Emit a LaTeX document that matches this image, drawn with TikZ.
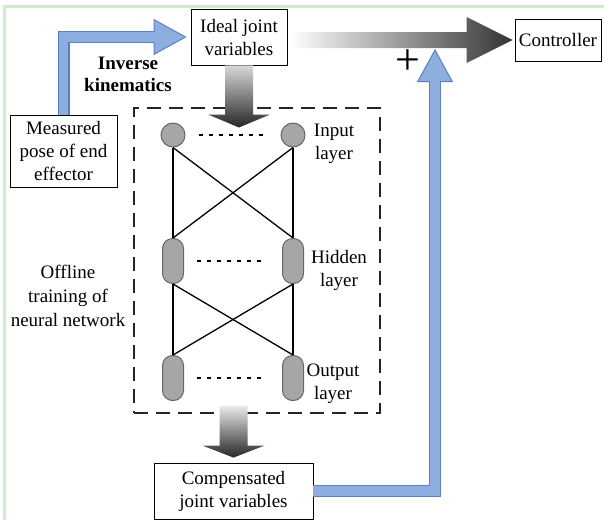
\documentclass[tikz,border=0pt]{standalone}
\usepackage{fontspec}
\setmainfont{Liberation Serif}
\usepackage{tikz}
\usetikzlibrary{arrows.meta,calc}
\definecolor{framegreen}{HTML}{CBEFCB}
\definecolor{bluefill}{HTML}{8FAEE0}
\definecolor{blueedge}{HTML}{5A80C4}
\tikzset{
  box/.style={draw=black, line width=0.8pt, fill=white, align=center, inner sep=2pt,
              font=\fontsize{19}{23}\selectfont},
  lbl/.style={align=center, inner sep=0pt, font=\fontsize{19}{23}\selectfont},
  trainbox/.style={draw=black!85, line width=1.2pt, dash pattern=on 14pt off 8pt},
  neuron/.style={circle, draw=black!60, fill=black!35, line width=1pt, minimum size=24pt, inner sep=0pt},
  pill/.style={rectangle, rounded corners=10pt, draw=black!60, fill=black!35, line width=1pt,
               minimum width=21pt, minimum height=45pt, inner sep=0pt},
  wire/.style={line width=1.3pt, draw=black},
  dotline/.style={line width=1.8pt, dash pattern=on 4pt off 6pt},
  bluearrow/.style={line width=12pt, draw=blueedge,
    -{Triangle[length=33pt,width=36pt,line width=1pt,fill=bluefill]},
    postaction={draw=bluefill, line width=9.5pt, -, shorten >=26pt}},
}
\begin{document}
\begin{tikzpicture}[x=1pt,y=-1pt]
  \useasboundingbox (0,0) rectangle (604,520);
  % frame
  \draw[framegreen, line width=3pt] (4.5,520) -- (4.5,6) -- (604,6);

  % boxes
  \node[box, minimum width=96pt, minimum height=56pt] (ideal) at (239,37) {Ideal joint\\variables};
  \node[box, minimum width=107pt, minimum height=72pt] (meas) at (63.5,151) {Measured\\pose of end\\effector};
  \node[box, minimum width=86pt, minimum height=42pt] (ctrl) at (558,40) {Controller};
  \node[box, minimum width=159pt, minimum height=56pt] (comp) at (233.5,491) {Compensated\\joint variables};

  % offline training block
  \node[trainbox, minimum width=246pt, minimum height=305pt] (train) at (257,260.5) {};
  \node[lbl, font=\fontsize{19}{24}\selectfont] (offl) at (68,296) {Offline\\training of\\neural network};

  % network
  \node[neuron] (in1) at (173,135) {};
  \node[neuron] (in2) at (293,135) {};
  \node[pill] (hid1) at (173,261) {};
  \node[pill] (hid2) at (293,261) {};
  \node[pill] (out1) at (173,378) {};
  \node[pill] (out2) at (293,378) {};
  \foreach \a in {in1,in2} {
    \foreach \b in {hid1,hid2} { \draw[wire] (\a.south) -- (\b.north); }
  }
  \foreach \a in {hid1,hid2} {
    \foreach \b in {out1,out2} { \draw[wire] (\a.south) -- (\b.north); }
  }
  \draw[dotline, shorten <=13pt, shorten >=16pt] (in1) -- (in2);
  \draw[dotline, shorten <=13pt, shorten >=19pt] (hid1) -- (hid2);
  \draw[dotline, shorten <=13pt, shorten >=19pt] (out1) -- (out2);
  \node[lbl] (inlab) at (334,144) {Input\\layer};
  \node[lbl] (hidlab) at (339,270) {Hidden\\layer};
  \node[lbl] (outlab) at (333,384) {Output\\layer};

  % inverse kinematics
  \draw[bluearrow, shorten >=4pt] (meas.north) |- (ideal.west);
  \node[lbl, font=\fontsize{19}{22}\bfseries] (ik) at (128,74) {Inverse\\kinematics};

  % shaded arrows
  \shade[left color=white, right color=black!80]
    let \p1=(ideal.east), \p2=(ctrl.west) in
    (\x1+3pt,\y2+8pt) -- (\x2-48pt,\y2+8pt) -- (\x2-48pt,\y2+23pt) -- (\x2-2pt,\y2)
    -- (\x2-48pt,\y2-23pt) -- (\x2-48pt,\y2-8pt) -- (\x1+3pt,\y2-8pt) -- cycle;
  \shade[top color=black!15, bottom color=black!85]
    let \p1=(ideal.south), \p2=(in1.north) in
    (\x1-14pt,\y1) -- (\x1+14pt,\y1) -- (\x1+14pt,\y2+8pt) -- (\x1+31pt,\y2+8pt)
    -- (\x1,\y2-5pt) -- (\x1-31pt,\y2+8pt) -- (\x1-14pt,\y2+8pt) -- cycle;
  \shade[top color=black!8, bottom color=black!85]
    let \p1=(train.south), \p2=(comp.north) in
    (\x2-14pt,\y1+8pt) -- (\x2+14pt,\y1+8pt) -- (\x2+14pt,\y2+17pt) -- (\x2+31pt,\y2+17pt)
    -- (\x2,\y2+5pt) -- (\x2-31pt,\y2+17pt) -- (\x2-14pt,\y2+17pt) -- cycle;

  % compensation feedback
  \coordinate (jn) at (435,49);
  \draw[bluearrow] (comp.east) -| (jn);
  \node[lbl, font=\fontsize{44}{44}\selectfont] (plus) at (408,62) {+};
\end{tikzpicture}
\end{document}
